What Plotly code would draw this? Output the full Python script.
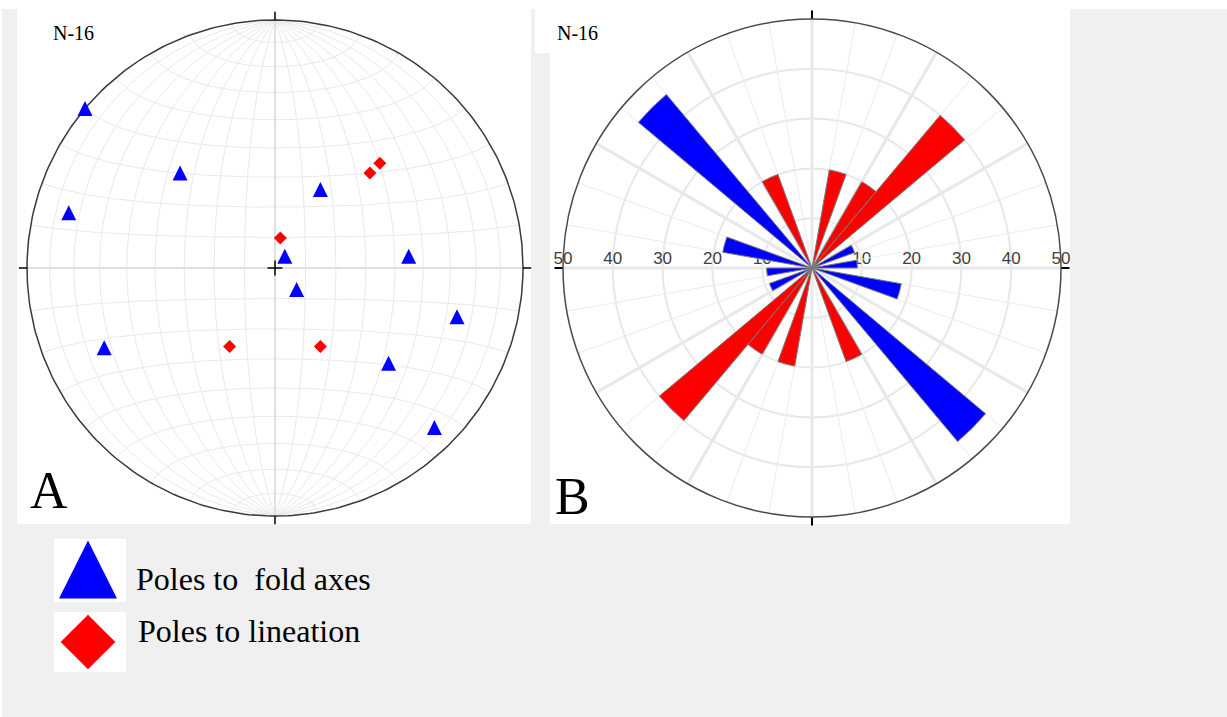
import numpy as np
import plotly.graph_objects as go

W, H = 1227, 717

# ---------------- data ----------------
# Stereonet A (equal-area, lower hemisphere): trend / plunge in degrees
fold_trend = [310, 315, 285, 30, 40, 85, 135, 105, 245, 130, 135]
fold_plunge = [0, 45, 15, 60, 85, 45, 80, 25, 25, 40, 10]
lin_trend = [45, 45, 10, 210, 150]
lin_plunge = [40, 45, 80, 60, 60]

# Rose diagram B: bin centre (deg) and percentage
rose_fold_theta = [65, 85, 105, 135, 245, 265, 285, 315]
rose_fold_pct = [9.1, 9.1, 18.2, 45.5, 9.1, 9.1, 18.2, 45.5]
rose_lin_theta = [15, 35, 45, 155, 195, 215, 225, 335]
rose_lin_pct = [20, 20, 40, 20, 20, 20, 40, 20]
rose_ticks = [10, 20, 30, 40, 50]

panel_labels = ["A", "B"]
sample_label = "N-16"
legend_labels = ["Poles to\u00a0 fold axes", "Poles to lineation"]

BLUE = "#0000ff"
RED = "#ff0000"


def px(x):
    return x / W


def py(y):
    return 1 - y / H


def schmidt(trend, plunge):
    t = np.radians(np.asarray(trend, float))
    p = np.radians(np.asarray(plunge, float))
    r = np.sqrt(2) * np.sin((np.pi / 2 - p) / 2)
    return r * np.sin(t), r * np.cos(t)


def net(lon, lat):
    lon = np.radians(lon)
    lat = np.radians(lat)
    x = np.cos(lat) * np.sin(lon)
    y = np.sin(lat)
    z = np.cos(lat) * np.cos(lon)
    f = 1 / np.sqrt(1 + z)
    return x * f, y * f


fig = go.Figure()

# ---------------- stereonet grid ----------------
gx, gy = [], []
lat_s = np.linspace(-90, 90, 181)
for lon in range(-80, 90, 10):
    if lon == 0:
        continue
    x, y = net(np.full_like(lat_s, lon), lat_s)
    gx += list(x) + [None]
    gy += list(y) + [None]
lon_s = np.linspace(-90, 90, 181)
for lat in range(-80, 90, 10):
    if lat == 0:
        continue
    x, y = net(lon_s, np.full_like(lon_s, lat))
    gx += list(x) + [None]
    gy += list(y) + [None]
fig.add_trace(go.Scatter(x=gx, y=gy, mode="lines", line=dict(color="#e9e9e9", width=1),
                         hoverinfo="skip", showlegend=False))
fig.add_trace(go.Scatter(x=[-1, 1, None, 0, 0], y=[0, 0, None, -1, 1], mode="lines",
                         line=dict(color="#e0e0e0", width=2), hoverinfo="skip", showlegend=False))
a = np.linspace(0, 2 * np.pi, 361)
fig.add_trace(go.Scatter(x=np.cos(a), y=np.sin(a), mode="lines",
                         line=dict(color="#3a3a3a", width=1.5), hoverinfo="skip", showlegend=False))
t = 1.033
c = 0.03
fig.add_trace(go.Scatter(
    x=[0, 0, None, 0, 0, None, 1, t, None, -1, -t, None, -c, c, None, 0, 0],
    y=[1, t, None, -1, -t, None, 0, 0, None, 0, 0, None, 0, 0, None, -c, c],
    mode="lines", line=dict(color="#000000", width=1.5), hoverinfo="skip", showlegend=False))

fx, fy = schmidt(fold_trend, fold_plunge)
fig.add_trace(go.Scatter(x=fx, y=fy, mode="markers", showlegend=False,
                         marker=dict(symbol="arrow-down", angle=180, standoff=7.5, size=15,
                                     color=BLUE, line=dict(width=0))))
lx, ly = schmidt(lin_trend, lin_plunge)
fig.add_trace(go.Scatter(x=lx, y=ly, mode="markers", showlegend=False,
                         marker=dict(symbol="diamond", size=10, color=RED, line=dict(width=0))))

# ---------------- legend markers (pixel space axis) ----------------
fig.add_trace(go.Scatter(x=[88], y=[569.5], xaxis="x2", yaxis="y2", mode="markers", showlegend=False,
                         marker=dict(symbol="arrow-down", angle=180, standoff=29, size=58,
                                     color=BLUE, line=dict(width=0))))
fig.add_trace(go.Scatter(x=[88], y=[642], xaxis="x2", yaxis="y2", mode="markers", showlegend=False,
                         marker=dict(symbol="diamond", size=42, color=RED, line=dict(width=0))))

# ---------------- rose diagram ----------------
lab_font = dict(family="Liberation Sans, Arial", size=17, color="#404040")
fig.add_trace(go.Scatterpolar(r=rose_ticks, theta=[90] * len(rose_ticks), subplot="polar",
                              mode="text", text=[str(v) for v in rose_ticks],
                              textposition="top center", textfont=lab_font,
                              cliponaxis=False, showlegend=False, hoverinfo="skip"))
fig.add_trace(go.Scatterpolar(r=rose_ticks, theta=[270] * len(rose_ticks), subplot="polar",
                              mode="text", text=[str(v) for v in rose_ticks],
                              textposition="top center", textfont=lab_font,
                              cliponaxis=False, showlegend=False, hoverinfo="skip"))
fig.add_trace(go.Barpolar(r=rose_fold_pct, theta=rose_fold_theta, width=10, subplot="polar2",
                          marker=dict(color=BLUE, line=dict(color="#7a7a7a", width=1)),
                          showlegend=False))
fig.add_trace(go.Barpolar(r=rose_lin_pct, theta=rose_lin_theta, width=10, subplot="polar2",
                          marker=dict(color=RED, line=dict(color="#7a7a7a", width=1)),
                          showlegend=False))
fig.add_trace(go.Scatterpolar(r=[0], theta=[0], subplot="polar3", mode="markers",
                              marker=dict(size=1, opacity=0), showlegend=False, hoverinfo="skip"))

# ---------------- layout ----------------
CX, CY, R = 275, 268, 248
SP = 1.06
RCX, RCY, RR = 812, 268, 249
rose_dom = dict(x=[px(RCX - RR), px(RCX + RR)], y=[py(RCY + RR), py(RCY - RR)])

def rect(x0, y0, x1, y1):
    return dict(type="rect", xref="paper", yref="paper", x0=px(x0), x1=px(x1), y0=py(y1), y1=py(y0),
                fillcolor="white", line=dict(width=0), layer="below")

shapes = [
    rect(0, 0, W, 9), rect(0, 0, 2, H),
    rect(17, 9, 531, 524), rect(535, 9, 550, 53), rect(550, 9, 1070, 524),
    rect(54, 539, 126, 602), rect(54, 612, 126, 672),
]

def ann(x, y, text, size, family="Liberation Serif, Times New Roman"):
    return dict(x=px(x), y=py(y), xref="paper", yref="paper", xanchor="left", yanchor="middle",
                text=text, showarrow=False, font=dict(family=family, size=size, color="black"))

annotations = [
    ann(51, 33, sample_label, 20), ann(555, 33, sample_label, 20),
    ann(28, 491, panel_labels[0], 52), ann(553, 496, panel_labels[1], 52),
    ann(134, 579, legend_labels[0], 32), ann(136, 631, legend_labels[1], 32),
]

fig.update_layout(
    width=W, height=H, autosize=False,
    margin=dict(l=0, r=0, t=0, b=0, pad=0),
    paper_bgcolor="#f0f0f0", plot_bgcolor="rgba(0,0,0,0)",
    shapes=shapes, annotations=annotations,
    xaxis=dict(domain=[px(CX - SP * R), px(CX + SP * R)], range=[-SP, SP], visible=False, fixedrange=True),
    yaxis=dict(domain=[py(CY + SP * R), py(CY - SP * R)], range=[-SP, SP], visible=False, fixedrange=True),
    xaxis2=dict(domain=[0, 1], range=[0, W], visible=False, anchor="y2"),
    yaxis2=dict(domain=[0, 1], range=[H, 0], visible=False, anchor="x2"),
    polar=dict(
        domain=rose_dom, bgcolor="white",
        angularaxis=dict(rotation=90, direction="clockwise", tickvals=list(range(0, 360, 30)),
                         showticklabels=False, ticks="", showgrid=True, gridcolor="#e6e6e6",
                         gridwidth=3, showline=False),
        radialaxis=dict(range=[0, 50], tickvals=[10, 20, 30, 40], showgrid=True, gridcolor="#e8e8e8",
                        gridwidth=2, showticklabels=False, ticks="", showline=False),
    ),
    polar2=dict(
        domain=rose_dom, bgcolor="rgba(0,0,0,0)", barmode="overlay",
        angularaxis=dict(rotation=90, direction="clockwise", tickvals=list(range(0, 360, 10)),
                         showticklabels=False, ticks="", showgrid=True, gridcolor="#ececec",
                         gridwidth=1.2, showline=True, linecolor="#4a4a4a", linewidth=1.5),
        radialaxis=dict(range=[0, 50], showgrid=False, showticklabels=False, ticks="", showline=False),
    ),
    polar3=dict(
        domain=rose_dom, bgcolor="rgba(0,0,0,0)",
        angularaxis=dict(rotation=90, direction="clockwise", tickvals=[0, 90, 180, 270],
                         showticklabels=False, ticks="outside", ticklen=8, tickwidth=1.5,
                         tickcolor="#000000", showgrid=False, showline=False),
        radialaxis=dict(range=[0, 50], visible=False),
    ),
)

fig.write_html("out.html")
